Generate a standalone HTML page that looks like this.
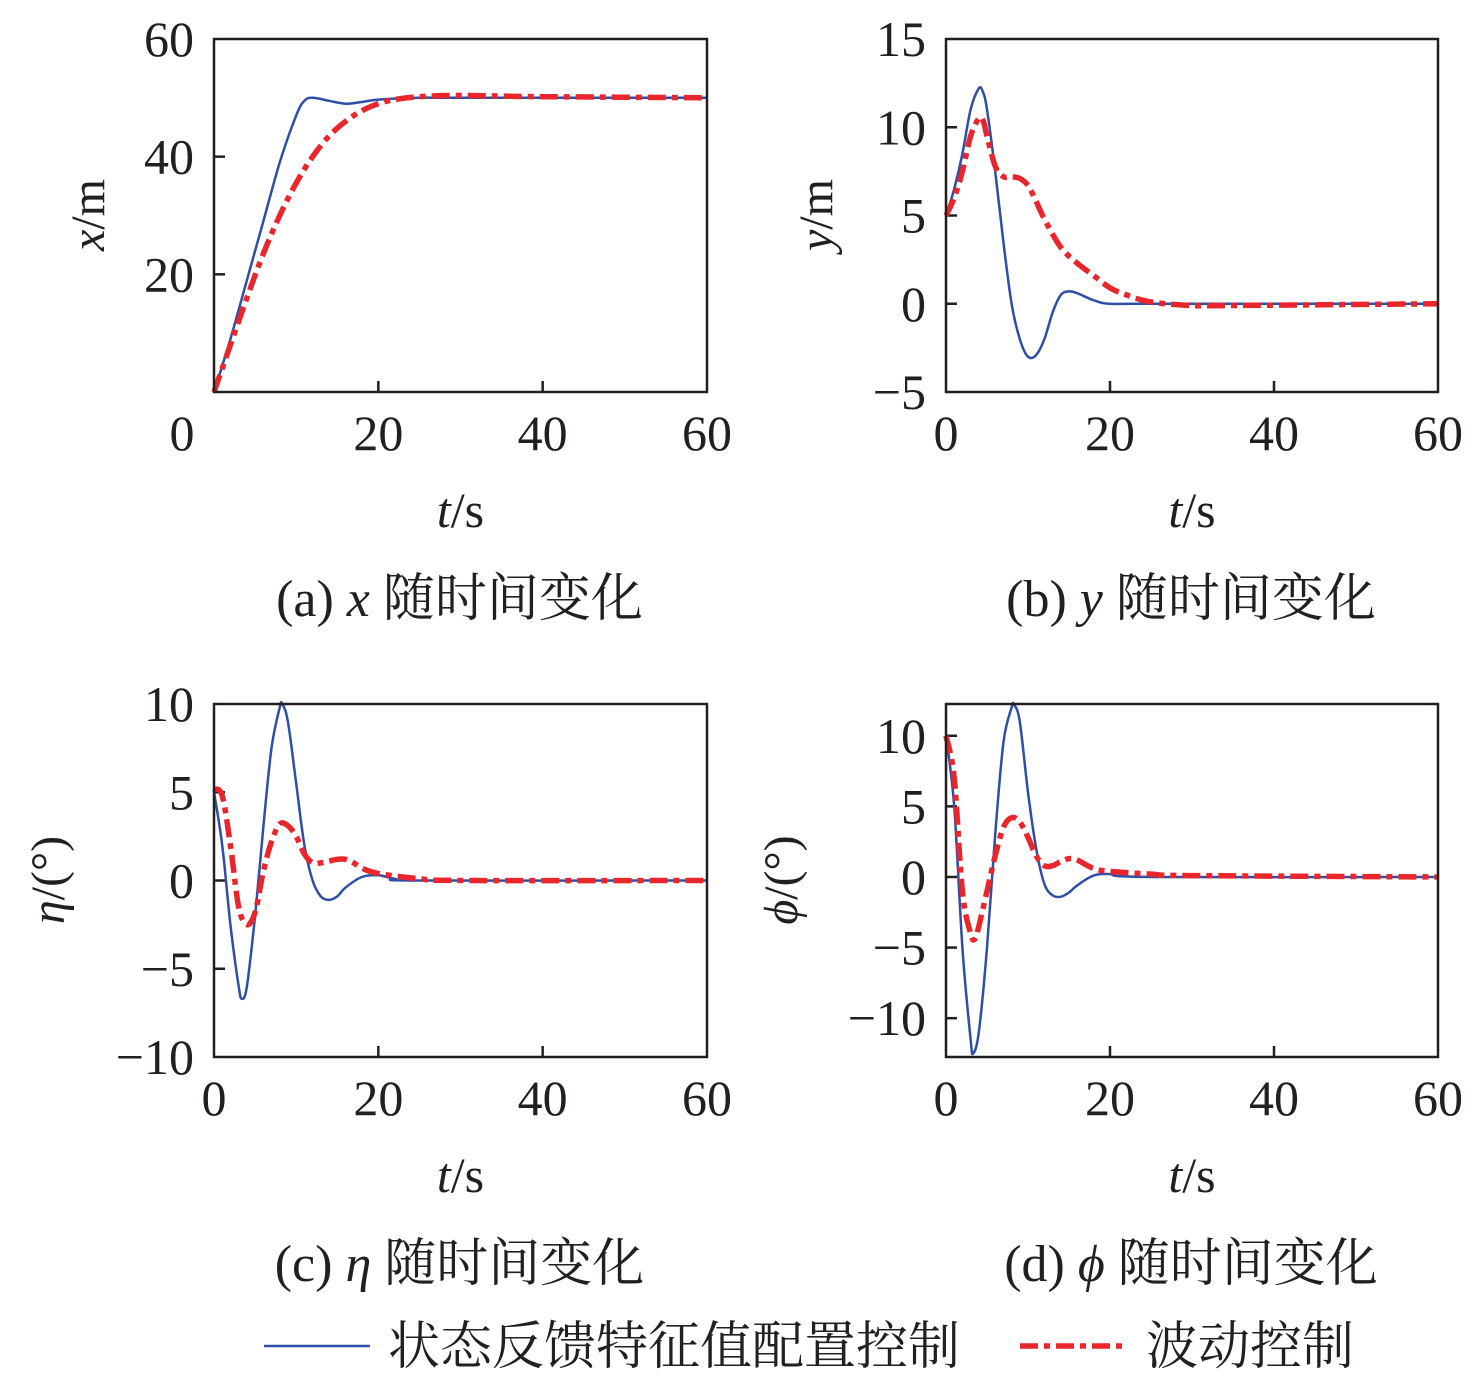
<!DOCTYPE html>
<html><head><meta charset="utf-8">
<style>
html,body{margin:0;padding:0;background:#fff;}
svg{display:block;}
text{font-family:"Liberation Serif","Noto Serif CJK SC","Noto Sans CJK SC",serif;fill:#231f20;}
</style></head>
<body>
<svg id="fig" width="1476" height="1388" viewBox="0 0 1476 1388" xmlns="http://www.w3.org/2000/svg"></svg>
<script>
// ---- data ----
const tA_blue=[0,2,4,6,8,10,11,12,14,16,18,20,25,30,60];
const vA_blue=[0,9,19,29,39,47,49.5,50,49.5,49,49.3,49.7,50,50,50];
const tA_red=[0,2,4,6,8,10,12,14,16,18,20,22,25,30,40,60];
const vA_red=[0,8,16,23.5,30,35.5,40,43.5,46,47.8,49,49.7,50.2,50.4,50.2,50];

const tB_blue=[0,1,2,3,4,4.5,5,6,7,8,9,10,11,12,13,14,15,16,18,20,25,60];
const vB_blue=[5,6.5,8.5,11,12.2,12,11,7.5,3.5,0,-2,-3,-2.9,-2,-0.5,0.5,0.7,0.6,0.2,0,0,0];
const tB_red=[0,1,2,3,4,4.5,5,6,7,8,9,10,11,12,14,16,18,20,22,25,30,35,60];
const vB_red=[5,6,7.5,9.5,10.5,10.4,9.5,7.8,7.2,7.2,7.1,6.7,5.8,4.8,3.2,2.3,1.6,0.9,0.5,0.1,-0.1,-0.1,0];

const tC_blue=[0,1,2,3,3.4,4,5,6,7,8,8.3,9,10,11,12,13,14,15,16,18,20,22,25,60];
const vC_blue=[5,2,-2.5,-6,-6.7,-6,-2,3,7.5,9.8,10,9,5.5,2,0,-0.9,-1.1,-0.9,-0.4,0.2,0.3,0.1,0,0];
const tC_red=[0,1,2,3,4,5,6,7,8,9,10,11,12,13,14,15,16,17,18,20,25,30,60];
const vC_red=[5.2,4.8,2,-1.5,-2.5,-1.8,0.5,2.2,3.2,3.1,2.5,1.5,1.0,1.0,1.1,1.2,1.2,1.0,0.7,0.4,0.1,0,0];

const tD_blue=[0,1,2,3,3.3,4,5,6,7,8,8.3,9,10,11,12,13,14,15,16,18,20,25,60];
const vD_blue=[10,5,-5,-11.5,-12.5,-11,-5,3,9.5,12,12.2,11,6,2,-0.5,-1.3,-1.4,-1.1,-0.6,0.1,0.2,0,0];
const tD_red=[0,1,2,3,3.5,4,5,6,7,8,9,10,11,12,13,14,15,16,18,20,25,30,60];
const vD_red=[10,7,-1,-4,-4.4,-3.5,-1,1.5,3.5,4.2,3.9,2.8,1.5,0.8,0.8,1.1,1.3,1.2,0.6,0.4,0.2,0.1,0];

const xTicks=[0,20,40,60];
const yTicksA=[20,40,60];
const yTicksB=[-5,0,5,10,15];
const yTicksC=[-10,-5,0,5,10];
const yTicksD=[-10,-5,0,5,10];

const NS="http://www.w3.org/2000/svg";
const svg=document.getElementById('fig');
const DASH='18,6,6,6';
function mk(tag,attrs,parent){const e=document.createElementNS(NS,tag);for(const k in attrs)e.setAttribute(k,attrs[k]);(parent||svg).appendChild(e);return e;}
function txt(s,x,y,size,anchor,parent,extra){const e=mk('text',Object.assign({x:x,y:y,'font-size':size,'text-anchor':anchor||'middle'},extra||{}),parent);e.innerHTML=s;return e;}

function smoothPath(pts){
  let d='M'+pts[0][0].toFixed(1)+','+pts[0][1].toFixed(1);
  for(let i=0;i<pts.length-1;i++){
    const p0=pts[i-1]||pts[i],p1=pts[i],p2=pts[i+1],p3=pts[i+2]||p2;
    const c1=[p1[0]+(p2[0]-p0[0])/6,p1[1]+(p2[1]-p0[1])/6];
    const c2=[p2[0]-(p3[0]-p1[0])/6,p2[1]-(p3[1]-p1[1])/6];
    d+=' C'+c1[0].toFixed(1)+','+c1[1].toFixed(1)+' '+c2[0].toFixed(1)+','+c2[1].toFixed(1)+' '+p2[0].toFixed(1)+','+p2[1].toFixed(1);
  }
  return d;
}

function panel(cfg){
  const g=mk('g',{});
  
  
  const L=cfg.x0,R=cfg.x1,T=cfg.y0,B=cfg.y1;
  const sx=t=>L+(t-0)/60*(R-L);
  const sy=v=>B-(v-cfg.ymin)/(cfg.ymax-cfg.ymin)*(B-T);
  xTicks.forEach(t=>{
    if(t>0&&t<60){const l=mk('line',{x1:sx(t),x2:sx(t),y1:B,y2:B-11,stroke:'#231f20','stroke-width':2.5},g);
    }
    const lb=txt(String(t),(t===0&&cfg.zeroX)?cfg.zeroX:sx(t),B+58,50,'middle',g);
    
  });
  cfg.yt.forEach(v=>{
    const y=sy(v);
    if(y>T+2&&y<B-2){const l=mk('line',{x1:L,x2:L+11,y1:y,y2:y,stroke:'#231f20','stroke-width':2.5},g);
    }
    const s=v<0?'\u2212'+Math.abs(v):String(v);
    const lb=txt(s,L-20,y+17,50,'end',g);
    
  });
  const bp=cfg.tb.map((t,i)=>[sx(t),sy(cfg.vb[i])]);
  const rp=cfg.tr.map((t,i)=>[sx(t),sy(cfg.vr[i])]);
  const pb=mk('path',{d:smoothPath(bp),fill:'none',stroke:'#2e4fa3','stroke-width':2.5},g);
  
  const pr=mk('path',{d:smoothPath(rp),fill:'none',stroke:'#e8262b','stroke-width':5.5,'stroke-dasharray':DASH},g);
  
  const f=mk('rect',{x:L,y:T,width:R-L,height:B-T,fill:'none',stroke:'#231f20','stroke-width':2.5},g);
  
  const xt=txt('<tspan font-style="italic">t</tspan>/s',(L+R)/2,B+135,50,'middle',g);
  
  const cy=cfg.ytY;
  const yt=txt(cfg.ytitle,cfg.ytX,cy,48,'middle',g,{transform:'rotate(-90 '+cfg.ytX+' '+cy+')'});
  
  const cp=txt(cfg.caption,(L+R)/2-1,B+224,52,'middle',g);
  
}

panel({name:'panel-x',x0:214,x1:707,y0:39,y1:392,ymin:0,ymax:60,yt:yTicksA,zeroX:182,
  tb:tA_blue,vb:vA_blue,tr:tA_red,vr:vA_red,ytitle:'<tspan font-style="italic">x</tspan>/m',ytX:104,ytY:215,
  caption:'(a) <tspan font-style="italic">x</tspan> 随时间变化'});
panel({name:'panel-y',x0:946,x1:1438,y0:39,y1:392,ymin:-5,ymax:15,yt:yTicksB,
  tb:tB_blue,vb:vB_blue,tr:tB_red,vr:vB_red,ytitle:'<tspan font-style="italic">y</tspan>/m',ytX:832,ytY:215,
  caption:'(b) <tspan font-style="italic">y</tspan> 随时间变化'});
panel({name:'panel-eta',x0:214,x1:707,y0:704,y1:1057,ymin:-10,ymax:10,yt:yTicksC,
  tb:tC_blue,vb:vC_blue,tr:tC_red,vr:vC_red,ytitle:'<tspan font-style="italic">η</tspan>/(°)',ytX:64,ytY:880,
  caption:'(c) <tspan font-style="italic">η</tspan> 随时间变化'});
panel({name:'panel-phi',x0:946,x1:1438,y0:704,y1:1057,ymin:-12.75,ymax:12.25,yt:yTicksD,
  tb:tD_blue,vb:vD_blue,tr:tD_red,vr:vD_red,ytitle:'<tspan font-style="italic">ϕ</tspan>/(°)',ytX:797,ytY:880,
  caption:'(d) <tspan font-style="italic">ϕ</tspan> 随时间变化'});

const lg=mk('g',{});


const l1=mk('line',{x1:264,x2:370,y1:1346,y2:1346,stroke:'#2e4fa3','stroke-width':2.5},lg);

const t1=txt('状态反馈特征值配置控制',388,1364,52,'start',lg);

const l2=mk('line',{x1:1020,x2:1128,y1:1346,y2:1346,stroke:'#e8262b','stroke-width':5.5,'stroke-dasharray':DASH},lg);

const t2=txt('波动控制',1146,1364,52,'start',lg);

</script>
</body></html>
